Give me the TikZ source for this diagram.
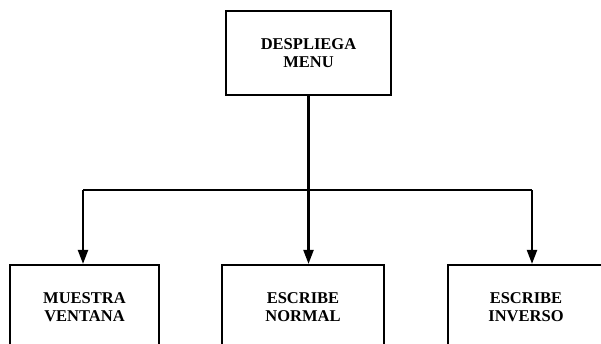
\documentclass[tikz,border=0pt]{standalone}
\usepackage{fontspec}
\setmainfont{Liberation Serif}
\usetikzlibrary{arrows.meta}
\begin{document}
\begin{tikzpicture}[x=1pt,y=-1pt,
  box/.style={draw,line width=2.2pt,minimum width=#1,minimum height=84pt,inner sep=0pt,
    align=center,font=\fontsize{16.5}{17.5}\selectfont\bfseries},
  box/.default=150pt,
  arr/.style={line width=2.2pt,-{Triangle[length=14pt,width=10pt]}}]
\useasboundingbox (0,0) rectangle (601,343);
\clip (0,0) rectangle (601,343);
\node[box=165pt] (menu) at (308.5,53) {DESPLIEGA\\MENU};
\node[box=149pt] (ventana) at (84.5,307) {MUESTRA\\VENTANA};
\node[box=162pt] (normal) at (303,307) {ESCRIBE\\NORMAL};
\node[box=156pt] (inverso) at (526,307) {ESCRIBE\\INVERSO};
\coordinate (jv) at (83,190);
\coordinate (jn) at (308.5,190);
\coordinate (ji) at (532,190);
\draw[line width=2.2pt] (menu.south) -- (jn);
\draw[line width=2.2pt] (jv) -- (ji);
\draw[arr] (jv) -- (jv |- ventana.north);
\draw[arr] (jn) -- (jn |- normal.north);
\draw[arr] (ji) -- (ji |- inverso.north);
\end{tikzpicture}
\end{document}
